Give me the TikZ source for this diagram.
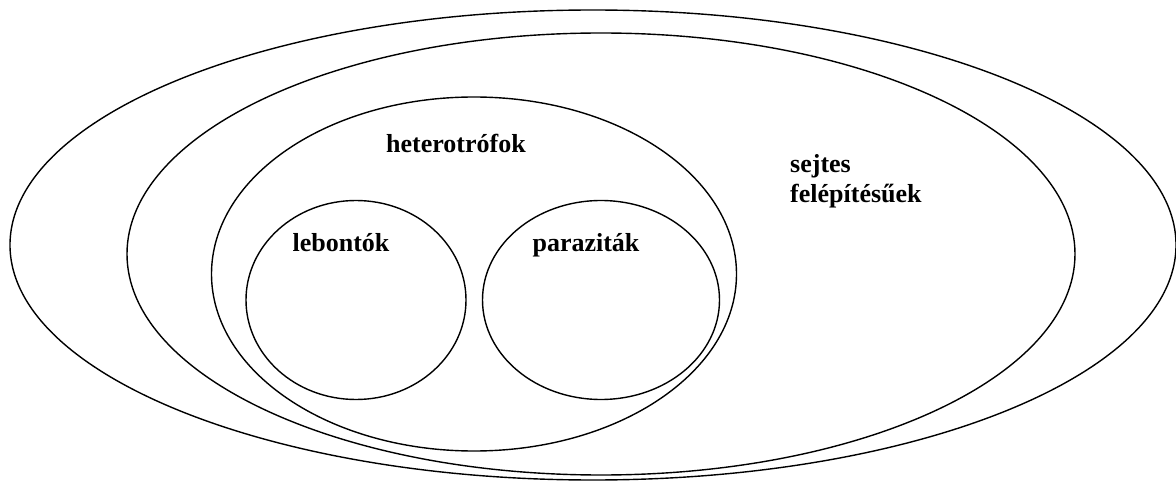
\documentclass[tikz,border=0pt]{standalone}
\usepackage{fontspec}
\setmainfont{Liberation Serif}
\usetikzlibrary{shapes.geometric}

\begin{document}
\begin{tikzpicture}[x=1pt,y=-1pt,
  set/.style={draw,ellipse,line width=1.4pt,inner sep=0pt},
  lbl/.style={font=\fontsize{26}{30}\selectfont\bfseries,inner sep=0pt}]
\useasboundingbox (0,0) rectangle (1176,481);
\node[set,minimum width=1166pt,minimum height=470pt] (sejtes) at (593,245) {};
\node[set,minimum width=948pt,minimum height=442pt] (eukar) at (601,254) {};
\node[set,minimum width=525pt,minimum height=354pt] (hetero) at (474,274) {};
\node[set,minimum width=220pt,minimum height=199pt] (lebonto) at (356,300) {};
\node[set,minimum width=237pt,minimum height=199pt] (parazita) at (601,300) {};
\node[lbl,anchor=base] (heteroTxt) at (456,153) {heterotrófok};
\node[lbl,anchor=base] (lebontoTxt) at (341,252) {lebontók};
\node[lbl,anchor=base] (parazitaTxt) at (586,252) {paraziták};
\node[lbl,anchor=base west,align=left] (sejtesTxt) at (790,203) {sejtes\\felépítésűek};
\end{tikzpicture}
\end{document}
